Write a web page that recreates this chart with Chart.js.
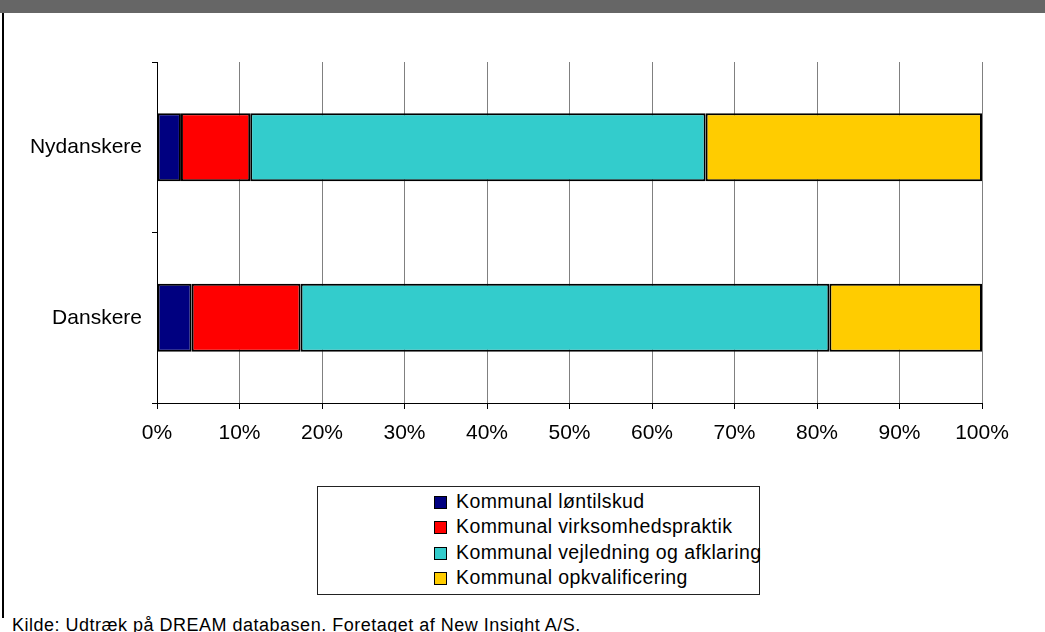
<!DOCTYPE html>
<html>
<head>
<meta charset="utf-8">
<script src="https://cdn.jsdelivr.net/npm/chart.js@4"></script>
<style>
  body { margin: 0; width: 1045px; height: 632px; overflow: hidden; background: #fff; font-family: "Liberation Sans", Arial, sans-serif; position: relative; }
  #topband { position: absolute; left: 0; top: 0; width: 1045px; height: 13px; background: #666666; }
  #venstre { position: absolute; left: 2px; top: 13px; width: 2px; height: 605px; background: #000; }
  #boks { position: absolute; left: 0; top: 0; width: 1045px; height: 470px; }
  #legende { position: absolute; left: 317px; top: 486px; width: 441px; height: 107px; border: 1px solid #222; }
  .linje { position: absolute; left: 116px; height: 25px; line-height: 25px; font-size: 19.5px; letter-spacing: 0.4px; color: #000; white-space: nowrap; }
  .linje span { display: inline-block; width: 11px; height: 11px; border: 1px solid #000; margin-right: 9px; vertical-align: -1px; }
  #kilde { position: absolute; left: 12px; top: 616px; font-size: 18px; letter-spacing: 0.5px; line-height: 18px; color: #000; white-space: nowrap; }
</style>
</head>
<body>
<div id="topband"></div>
<div id="venstre"></div>
<div id="boks"><canvas id="grafOrdning"></canvas></div>
<div id="legende"></div>
<div id="kilde">Kilde: Udtræk på DREAM databasen. Foretaget af New Insight A/S.</div>
<script>
// grupper (top til bund)
let grupper = ['Nydanskere', 'Danskere']

// andel i procent pr. ordning
let loentilskud = [2.9, 4.2]
let praktik = [8.4, 13.2]
let vejledning = [55.2, 64.1]
let opkvalificering = [33.5, 18.5]

let ordninger = ['Kommunal løntilskud', 'Kommunal virksomhedspraktik', 'Kommunal vejledning og afklaring', 'Kommunal opkvalificering']
let farver = ['#000080', '#FF0000', '#33CCCC', '#FFCC00']

let xTicks = [0, 10, 20, 30, 40, 50, 60, 70, 80, 90, 100]

let serier = [loentilskud, praktik, vejledning, opkvalificering]

let datasets = serier.map((s, i) => ({
    label: ordninger[i],
    data: s,
    backgroundColor: farver[i],
    borderColor: '#000',
    borderWidth: 2,
    borderSkipped: false,
    barPercentage: 0.4,
    categoryPercentage: 1
}))

Chart.defaults.font.family = '"Liberation Sans", Arial, sans-serif'
Chart.defaults.color = '#000'

new Chart(document.querySelector('#grafOrdning'), {
    type: 'bar',
    data: { labels: grupper, datasets: datasets },
    options: {
        indexAxis: 'y',
        responsive: true,
        maintainAspectRatio: false,
        animation: false,
        layout: { padding: { top: 62, right: 63, left: 0, bottom: 0 } },
        plugins: {
            legend: { display: false },
            tooltip: { enabled: false }
        },
        scales: {
            x: {
                stacked: true,
                min: 0,
                max: 100,
                afterBuildTicks: scale => { scale.ticks = xTicks.map(v => ({ value: v })) },
                afterFit: scale => { scale.height = 67 },
                ticks: {
                    font: { size: 21 },
                    padding: 12,
                    maxRotation: 0,
                    callback: v => v + '%'
                },
                grid: { color: '#808080', lineWidth: 1, tickColor: '#000', tickLength: 6 },
                border: { color: '#000', width: 1 }
            },
            y: {
                stacked: true,
                afterFit: scale => { scale.width = 157 },
                ticks: { font: { size: 21 }, padding: 10 },
                grid: { offset: true, drawOnChartArea: false, color: '#000', tickLength: 5 },
                border: { color: '#000', width: 1 }
            }
        }
    }
})

// legende
let legende = document.querySelector('#legende')
let topStart = 2
ordninger.forEach((navn, i) => {
    legende.innerHTML += `<div class="linje" style="top:${topStart + i * 25.3}px"><span style="background:${farver[i]}"></span>${navn}</div>`
})
</script>
</body>
</html>
